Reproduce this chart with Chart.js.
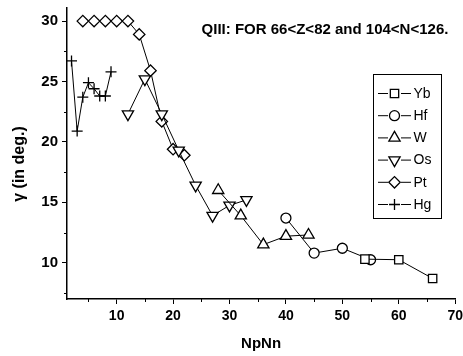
<!DOCTYPE html>
<html>
<head>
<meta charset="utf-8">
<script src="https://cdn.jsdelivr.net/npm/chart.js@4"></script>
<style>
html,body{margin:0;padding:0;background:#fff;}
canvas{display:block;}
</style>
</head>
<body>
<canvas id="c" width="463" height="356"></canvas>
<script>
// ---- data ----
const seriesNames = ['Yb', 'Hf', 'W', 'Os', 'Pt', 'Hg'];
const ybX = [54, 60, 66];
const ybY = [10.3, 10.25, 8.7];
const hfX = [40, 45, 50, 55];
const hfY = [13.7, 10.8, 11.2, 10.25];
const wX = [28, 32, 36, 40, 44];
const wY = [16.0, 13.9, 11.5, 12.2, 12.3];
const osX = [12, 15, 18, 21, 24, 27, 30, 33];
const osY = [22.3, 25.2, 22.3, 19.3, 16.4, 13.9, 14.75, 15.2];
const ptX = [4, 6, 8, 10, 12, 14, 16, 18, 20, 22];
const ptY = [30, 30, 30, 30, 30, 28.9, 25.9, 21.7, 19.4, 18.9];
const hgX = [2, 3, 4, 5, 6, 7, 8, 9];
const hgY = [26.7, 20.9, 23.7, 24.9, 24.4, 23.8, 23.8, 25.8];
const xTicks = [10, 20, 30, 40, 50, 60, 70];
const xMinorTicks = [5, 15, 25, 35, 45, 55, 65];
const yTicks = [10, 15, 20, 25, 30];
const yMinorTicks = [7.5, 12.5, 17.5, 22.5, 27.5];
const titleText = 'QIII: FOR 66<Z<82 and 104<N<126.';
const xTitle = 'NpNn';
const yTitle = 'γ (in deg.)';

const FONT = "'Liberation Sans', Arial, Helvetica, sans-serif";

function pts(xs, ys) { return xs.map((x, i) => ({x: x, y: ys[i]})); }

const styles = [
  {pointStyle: 'rect', radius: 5.9, rotation: 0},
  {pointStyle: 'circle', radius: 5, rotation: 0},
  {pointStyle: 'triangle', radius: 6.5, rotation: 0},
  {pointStyle: 'triangle', radius: 6.5, rotation: 180},
  {pointStyle: 'rectRot', radius: 5.7, rotation: 0},
  {pointStyle: 'cross', radius: 5.5, rotation: 0}
];
const allData = [pts(ybX, ybY), pts(hfX, hfY), pts(wX, wY), pts(osX, osY), pts(ptX, ptY), pts(hgX, hgY)];

const datasets = seriesNames.map((n, i) => ({
  label: n,
  data: allData[i],
  showLine: true,
  borderColor: '#000',
  borderWidth: 1,
  pointStyle: styles[i].pointStyle,
  pointRadius: styles[i].radius,
  pointRotation: styles[i].rotation,
  pointBorderColor: '#000',
  pointBackgroundColor: '#fff',
  pointBorderWidth: 1.3,
  pointHoverRadius: styles[i].radius
}));

const decor = {
  id: 'decor',
  afterDraw(chart) {
    const ctx = chart.ctx;
    const xs = chart.scales.x, ys = chart.scales.y;
    ctx.save();
    // minor ticks
    ctx.strokeStyle = '#000';
    ctx.lineWidth = 1;
    ctx.beginPath();
    xMinorTicks.forEach(v => {
      const px = Math.round(xs.getPixelForValue(v)) + 0.5;
      ctx.moveTo(px, ys.bottom);
      ctx.lineTo(px, ys.bottom + 3);
    });
    yMinorTicks.forEach(v => {
      const py = Math.round(ys.getPixelForValue(v)) + 0.5;
      ctx.moveTo(xs.left, py);
      ctx.lineTo(xs.left - 3, py);
    });
    ctx.stroke();

    // title
    ctx.fillStyle = '#000';
    ctx.font = 'bold 15px ' + FONT;
    ctx.textAlign = 'center';
    ctx.textBaseline = 'alphabetic';
    ctx.fillText(titleText, 325, 33.5);

    // y title
    ctx.save();
    ctx.translate(20, 164);
    ctx.rotate(-Math.PI / 2);
    ctx.font = 'bold 16px ' + FONT;
    ctx.textAlign = 'center';
    ctx.textBaseline = 'middle';
    ctx.fillText(yTitle, 0, 0);
    ctx.restore();

    // legend
    ctx.lineWidth = 1;
    ctx.strokeRect(373.5, 74.5, 68, 144);
    ctx.font = '14px ' + FONT;
    ctx.textAlign = 'left';
    ctx.textBaseline = 'middle';
    seriesNames.forEach((n, i) => {
      const y = 93.5 + i * 22.2;
      ctx.strokeStyle = '#000';
      ctx.lineWidth = 1;
      ctx.beginPath();
      ctx.moveTo(378, y); ctx.lineTo(388, y);
      ctx.moveTo(401, y); ctx.lineTo(411, y);
      ctx.stroke();
      ctx.fillStyle = '#fff';
      ctx.lineWidth = 1.3;
      Chart.helpers.drawPoint(ctx, {
        pointStyle: styles[i].pointStyle,
        radius: styles[i].radius,
        rotation: styles[i].rotation,
        borderWidth: 1.3
      }, 394.5, y);
      ctx.fillStyle = '#000';
      ctx.fillText(n, 413.5, y + 0.5);
    });
    ctx.restore();
  }
};

new Chart(document.getElementById('c'), {
  type: 'scatter',
  data: {datasets: datasets},
  options: {
    responsive: false,
    animation: false,
    devicePixelRatio: 1,
    layout: {padding: {left: 0, right: 6, top: 5, bottom: 0}},
    plugins: {legend: {display: false}, tooltip: {enabled: false}, title: {display: false}},
    scales: {
      x: {
        type: 'linear',
        min: 1.2, max: 70,
        afterBuildTicks: s => { s.ticks = xTicks.map(v => ({value: v})); },
        afterFit: s => { s.height = 57; s.paddingLeft = 0; s.paddingRight = 0; },
        grid: {display: true, drawOnChartArea: false, drawTicks: true, tickLength: 5, color: '#000', lineWidth: 1},
        border: {display: true, color: '#000', width: 1.5},
        ticks: {color: '#000', font: {family: FONT, size: 14, weight: 'bold'}, padding: 4, maxRotation: 0, autoSkip: false},
        title: {display: true, text: xTitle, color: '#000', font: {family: FONT, size: 15, weight: 'bold'}, padding: {top: 0, bottom: 3}}
      },
      y: {
        type: 'linear',
        min: 7, max: 31.1,
        afterBuildTicks: s => { s.ticks = yTicks.map(v => ({value: v})); },
        afterFit: s => { s.width = 67; s.paddingTop = 0; s.paddingBottom = 0; },
        grid: {display: true, drawOnChartArea: false, drawTicks: true, tickLength: 5, color: '#000', lineWidth: 1},
        border: {display: true, color: '#000', width: 1.5},
        ticks: {color: '#000', font: {family: FONT, size: 15, weight: 'bold'}, padding: 4, autoSkip: false}
      }
    }
  },
  plugins: [decor]
});
</script>
</body>
</html>
